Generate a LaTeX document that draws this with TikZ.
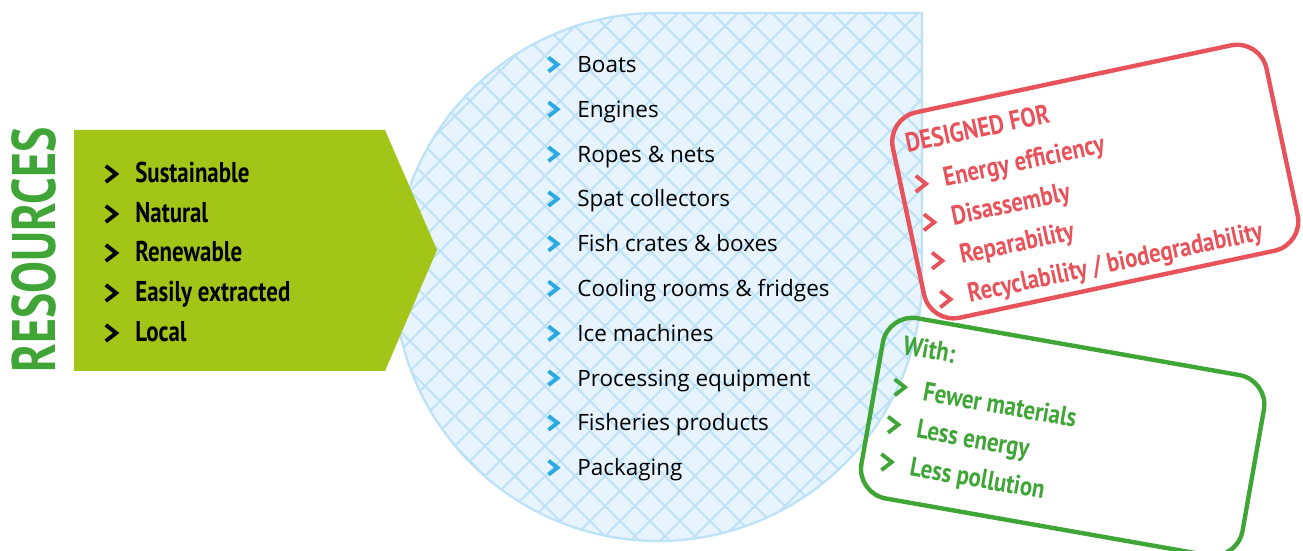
\documentclass[tikz,border=0pt]{standalone}
\usepackage{fontspec}
\setmainfont{Open Sans}
\newfontfamily\narrowfont{PT Sans}[FakeStretch=0.8]
\newfontfamily\boxfont{PT Sans}[FakeStretch=0.84]
\usepackage{graphicx}

\definecolor{limegreen}{HTML}{A3C517}
\definecolor{resgreen}{HTML}{3EA536}
\definecolor{boxred}{HTML}{E8525A}
\definecolor{chevblue}{HTML}{2AAAE2}
\definecolor{dropfill}{HTML}{E7F4FD}
\definecolor{dropline}{HTML}{BDE2F8}

\begin{document}
\begin{tikzpicture}
        [x=0.02cm, y=0.02cm,
        itemstyle/.style={anchor=base west, inner sep=0pt, font=\fontsize{12.8}{15}\selectfont},
        resstyle/.style={anchor=base west, inner sep=0pt, font=\narrowfont\bfseries\fontsize{16.3}{18}\selectfont},
        redstyle/.style={anchor=base west, inner sep=0pt, text=boxred, transform shape, font=\boxfont\bfseries\fontsize{15.4}{18}\selectfont},
        grnstyle/.style={anchor=base west, inner sep=0pt, text=resgreen, transform shape, font=\boxfont\bfseries\fontsize{15.4}{18}\selectfont},
        boxstyle/.style={draw, line width=2.5pt, rounded corners=0.6cm, transform shape, inner sep=0pt},
        chev/.pic={\draw[pic actions, line width=2.2pt, line join=miter] (-4.5,7)--(4.5,0)--(-4.5,-7);},
        bigchev/.style={line width=2.6pt, scale=1.15}]

        \useasboundingbox (0,0) rectangle (1303,551);

        \begin{scope}
            \clip (658,538) -- (922,538) -- (922,274) arc[start angle=0, end angle=-270, radius=264] -- cycle;
            \fill[dropfill] (380,0) rectangle (930,551);
            \foreach \i in {-220,-190,...,1550} {
                \draw[dropline, line width=1.2pt] (\i,0) -- ++(600,600);
                \draw[dropline, line width=1.2pt] (\i,0) -- ++(-600,600);
            }
        \end{scope}
        \draw[dropline, line width=1.3pt] (658,538) -- (922,538) -- (922,274) arc[start angle=0, end angle=-270, radius=264] -- cycle;

        \fill[limegreen] (74,421) -- (385,421) -- (437,301) -- (385,180) -- (74,180) -- cycle;
        \node[rotate=90, inner sep=0pt, text=resgreen, font=\narrowfont\bfseries\fontsize{35}{40}\selectfont] (resources) at (34,301) {\scalebox{0.97}[1]{RESOURCES}};

        \pic[draw=black, bigchev] at (111,377) {chev};
        \pic[draw=black, bigchev] at (111,337) {chev};
        \pic[draw=black, bigchev] at (111,298) {chev};
        \pic[draw=black, bigchev] at (111,258) {chev};
        \pic[draw=black, bigchev] at (111,218) {chev};
        \node[resstyle] (sustainable) at (135,368) {Sustainable};
        \node[resstyle] (natural)     at (135,328) {Natural};
        \node[resstyle] (renewable)   at (135,289) {Renewable};
        \node[resstyle] (easily)      at (135,249) {Easily extracted};
        \node[resstyle] (local)       at (135,209) {Local};

        \pic[draw=chevblue] at (553,486.5) {chev};
        \pic[draw=chevblue] at (553,441.7) {chev};
        \pic[draw=chevblue] at (553,396.9) {chev};
        \pic[draw=chevblue] at (553,352.1) {chev};
        \pic[draw=chevblue] at (553,307.3) {chev};
        \pic[draw=chevblue] at (553,262.5) {chev};
        \pic[draw=chevblue] at (553,217.7) {chev};
        \pic[draw=chevblue] at (553,172.9) {chev};
        \pic[draw=chevblue] at (553,128.1) {chev};
        \pic[draw=chevblue] at (553,83.3) {chev};
        \node[itemstyle] (boats)      at (577,478.5) {Boats};
        \node[itemstyle] (engines)    at (577,433.7) {Engines};
        \node[itemstyle] (ropes)      at (577,388.9) {Ropes \& nets};
        \node[itemstyle] (spat)       at (577,344.1) {Spat collectors};
        \node[itemstyle] (crates)     at (577,299.3) {Fish crates \& boxes};
        \node[itemstyle] (cooling)    at (577,254.5) {Cooling rooms \& fridges};
        \node[itemstyle] (ice)        at (577,209.7) {Ice machines};
        \node[itemstyle] (processing) at (577,164.9) {Processing equipment};
        \node[itemstyle] (products)   at (577,120.1) {Fisheries products};
        \node[itemstyle] (packaging)  at (577,75.3)  {Packaging};

        \begin{scope}[shift={(1064,116)}, rotate=-10]
            \node[boxstyle, draw=resgreen, minimum width=7.74cm, minimum height=3.66cm] (withbox) at (-1,-2) {};
            \node[grnstyle] (with) at (-174,51.5) {With:};
            \pic[draw=resgreen, bigchev] at (-170,18.5) {chev};
            \pic[draw=resgreen, bigchev] at (-170,-19.5) {chev};
            \pic[draw=resgreen, bigchev] at (-170,-57.5) {chev};
            \node[grnstyle] (fewer)     at (-146,9.4)   {Fewer materials};
            \node[grnstyle] (energy)    at (-146,-28.6) {Less energy};
            \node[grnstyle] (pollution) at (-146,-66.8) {Less pollution};
        \end{scope}

        \begin{scope}[shift={(1094,361)}, rotate=12]
            \node[boxstyle, draw=boxred, minimum width=7.64cm, minimum height=4.2cm] (designbox) at (3,8) {};
            \node[redstyle] (designed) at (-175,75) {DESIGNED FOR};
            \pic[draw=boxred, bigchev] at (-168,42) {chev};
            \pic[draw=boxred, bigchev] at (-168,2.7) {chev};
            \pic[draw=boxred, bigchev] at (-168,-36.6) {chev};
            \pic[draw=boxred, bigchev] at (-168,-76) {chev};
            \node[redstyle] (efficiency)  at (-145,34)    {Energy efficiency};
            \node[redstyle] (disassembly) at (-145,-5.3)  {Disassembly};
            \node[redstyle] (reparab)     at (-145,-44.6) {Reparability};
            \node[redstyle] (recyclab)    at (-145,-84)   {Recyclability / biodegradability};
        \end{scope}
    \end{tikzpicture}
\end{document}
